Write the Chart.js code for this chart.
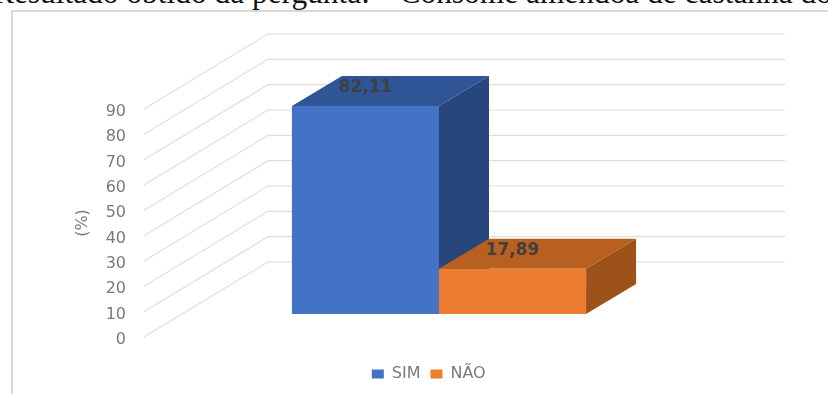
<!DOCTYPE html>
<html>
<head>
<meta charset="utf-8">
<style>
    html, body { margin: 0; padding: 0; background: #fff; overflow: hidden; }
    #page { position: relative; width: 828px; height: 394px; overflow: hidden; }
    #caption {
        position: absolute; left: -7px; top: -25px; white-space: pre;
        font: 31.4px/36px "Liberation Serif", serif; color: #111;
    }
    #frame {
        position: absolute; left: 11px; top: 10px; width: 840px; height: 420px;
        border: 2px solid #d9d9d9;
    }
    canvas { position: absolute; left: 0; top: 0; }
</style>
</head>
<body>
<div id="page">
    <div id="caption">Resultado obtido da pergunta:  “Consome amêndoa de castanha do</div>
    <div id="frame"></div>
    <canvas id="chart" width="828" height="394"></canvas>
</div>
<script src="https://cdn.jsdelivr.net/npm/chart.js@4"></script>
<script>
const categories = [""];
const seriesNames = ["SIM", "NÃO"];
const seriesValues = [[82.11], [17.89]];
const frontColors = ["#4472c4", "#ed7d31"];
const topColors = ["#2f5597", "#b86020"];
const sideColors = ["#27467c", "#9c5218"];
const axisTitle = "(%)";

// profundidade do 3D, em pixels
const barDepth = { x: 50, y: -30 };
const floorFront = { x: -36.5, y: 23 };
const floorBack = { x: 87.5, y: -52 };
const legendShift = 35;

const font = "DejaVu Sans";
const textColor = "#7a7a7a";

function face(ctx, color, pts) {
    ctx.fillStyle = color;
    ctx.beginPath();
    pts.forEach((p, i) => (i ? ctx.lineTo(p[0], p[1]) : ctx.moveTo(p[0], p[1])));
    ctx.closePath();
    ctx.fill();
}

let legendMoved = false;

const box3d = {
    id: "box3d",
    beforeDraw(chart) {
        // legenda centrada na figura, nao na area util
        if (!legendMoved) {
            chart.legend.left += legendShift;
            chart.legend.right += legendShift;
            legendMoved = true;
        }
    },
    beforeDatasetsDraw(chart) {
        const { ctx, chartArea, scales } = chart;
        ctx.save();

        // Grades: piso/lateral e parede de fundo
        ctx.strokeStyle = "#dedede";
        ctx.lineWidth = 1.2;
        scales.y.ticks.forEach((tick) => {
            const y = scales.y.getPixelForValue(tick.value);
            ctx.beginPath();
            ctx.moveTo(chartArea.left + floorFront.x, y + floorFront.y);
            ctx.lineTo(chartArea.left + floorBack.x, y + floorBack.y);
            ctx.lineTo(chartArea.right + floorBack.x, y + floorBack.y);
            ctx.stroke();
        });

        // Faces de cima e do lado de cada barra
        chart.data.datasets.forEach((ds, i) => {
            const bar = chart.getDatasetMeta(i).data[0];
            const l = bar.x - bar.width / 2;
            const r = bar.x + bar.width / 2;
            const dx = barDepth.x;
            const dy = barDepth.y;
            face(ctx, sideColors[i], [[r, bar.y], [r + dx, bar.y + dy], [r + dx, bar.base + dy], [r, bar.base]]);
            face(ctx, topColors[i], [[l, bar.y], [l + dx, bar.y + dy], [r + dx, bar.y + dy], [r, bar.y]]);
        });
        ctx.restore();
    },
    afterDatasetsDraw(chart) {
        const { ctx, chartArea } = chart;
        ctx.save();
        ctx.textAlign = "center";
        ctx.textBaseline = "middle";

        // Rótulos de valor, sobre a face de cima
        chart.data.datasets.forEach((ds, i) => {
            const bar = chart.getDatasetMeta(i).data[0];
            ctx.font = `bold 17px "${font}"`;
            ctx.fillStyle = "#404040";
            ctx.fillText(ds.data[0].toFixed(2).replace(".", ","), bar.x, bar.y - 18);
        });

        // Título do eixo
        ctx.translate(83, (chartArea.top + chartArea.bottom) / 2 + floorFront.y);
        ctx.rotate(-Math.PI / 2);
        ctx.font = `16px "${font}"`;
        ctx.fillStyle = textColor;
        ctx.fillText(axisTitle, 0, 0);
        ctx.restore();
    },
};

new Chart(document.getElementById("chart"), {
    type: "bar",
    data: {
        labels: categories,
        datasets: seriesNames.map((name, i) => ({
            label: name,
            data: seriesValues[i],
            backgroundColor: frontColors[i],
            borderWidth: 0,
            categoryPercentage: 0.569,
            barPercentage: 1,
        })),
    },
    plugins: [box3d],
    options: {
        responsive: false,
        animation: false,
        layout: { padding: { left: 90, right: 130.5, top: 86, bottom: 2 } },
        scales: {
            x: {
                afterFit: (s) => { s.height = 42; },
                grid: { display: false },
                border: { display: false },
                ticks: { display: false },
            },
            y: {
                min: 0,
                max: 90,
                afterFit: (s) => { s.width = 90.5; },
                grid: { display: false, drawTicks: false },
                border: { display: false },
                ticks: {
                    stepSize: 10,
                    padding: 54.5,
                    labelOffset: 26,
                    color: textColor,
                    font: { family: font, size: 16 },
                },
            },
        },
        plugins: {
            tooltip: { enabled: false },
            legend: {
                position: "bottom",
                labels: {
                    boxWidth: 12,
                    boxHeight: 9,
                    padding: 10,
                    color: textColor,
                    font: { family: font, size: 16 },
                },
            },
        },
    },
});
</script>
</body>
</html>
